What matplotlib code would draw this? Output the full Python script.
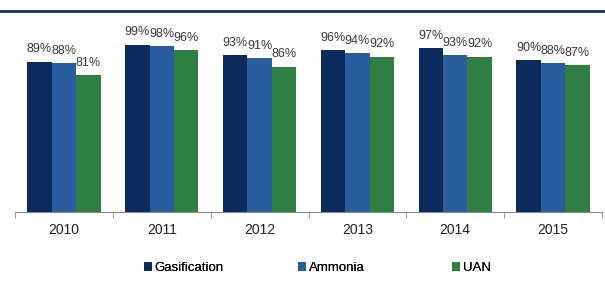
import numpy as np
import matplotlib.pyplot as plt
from matplotlib.lines import Line2D

plt.rcParams['font.family'] = ['Liberation Sans', 'DejaVu Sans']

years = ['2010', '2011', '2012', '2013', '2014', '2015']
gasification = [89, 99, 93, 96, 97, 90]
ammonia = [88, 98, 91, 94, 93, 88]
uan = [81, 96, 86, 92, 92, 87]

series = [('Gasification', gasification, '#0c2b5c'),
          ('Ammonia', ammonia, '#2a5d9f'),
          ('UAN', uan, '#2f7f45')]

W, H = 605, 289
fig = plt.figure(figsize=(W / 100, H / 100), dpi=100)
ax = fig.add_axes([15 / W, (H - 212) / H, 587 / W, (212 - 30) / H])

x = np.arange(len(years))
bw = 0.25
handles = []
for i, (name, vals, col) in enumerate(series):
    bars = ax.bar(x + (i - 1) * bw, vals, bw, color=col, label=name)
    handles.append(bars)
    for b, v in zip(bars, vals):
        ax.annotate(f'{v}%', (b.get_x() + b.get_width() / 2, v),
                    xytext=(0, 4.5), textcoords='offset points',
                    ha='center', va='bottom', fontsize=9, color='#3a3a3a')

ax.set_xlim(-0.5, len(years) - 0.5)
ax.set_ylim(0, (212 - 30) / 169 * 100)
ax.set_xticks(x)
ax.set_xticklabels(years, fontsize=10, color='#222222')
ax.set_xticks(np.arange(len(years) + 1) - 0.5, minor=True)
ax.tick_params(axis='x', which='major', length=0, pad=8)
ax.tick_params(axis='x', which='minor', length=4, color='#888888', direction='out')
ax.set_yticks([])
for s in ['top', 'right', 'left']:
    ax.spines[s].set_visible(False)
ax.spines['bottom'].set_color('#888888')

# navy rule at the top
fig.add_artist(Line2D([0, 1], [1 - 11 / H, 1 - 11 / H], transform=fig.transFigure,
                      color='#16305e', lw=2))

# legend entries sit at evenly spaced starts, one legend per entry
for i, (h, (name, _, _)) in enumerate(zip(handles, series)):
    leg = fig.legend([h], [name], loc='center left',
                     bbox_to_anchor=((139 + 154 * i) / W, 1 - 268 / H),
                     frameon=False, fontsize=9.5, handlelength=0.6, handleheight=0.6,
                     handletextpad=0.2, borderaxespad=0)
    fig.add_artist(leg)

fig.savefig('out.png', dpi=100)
